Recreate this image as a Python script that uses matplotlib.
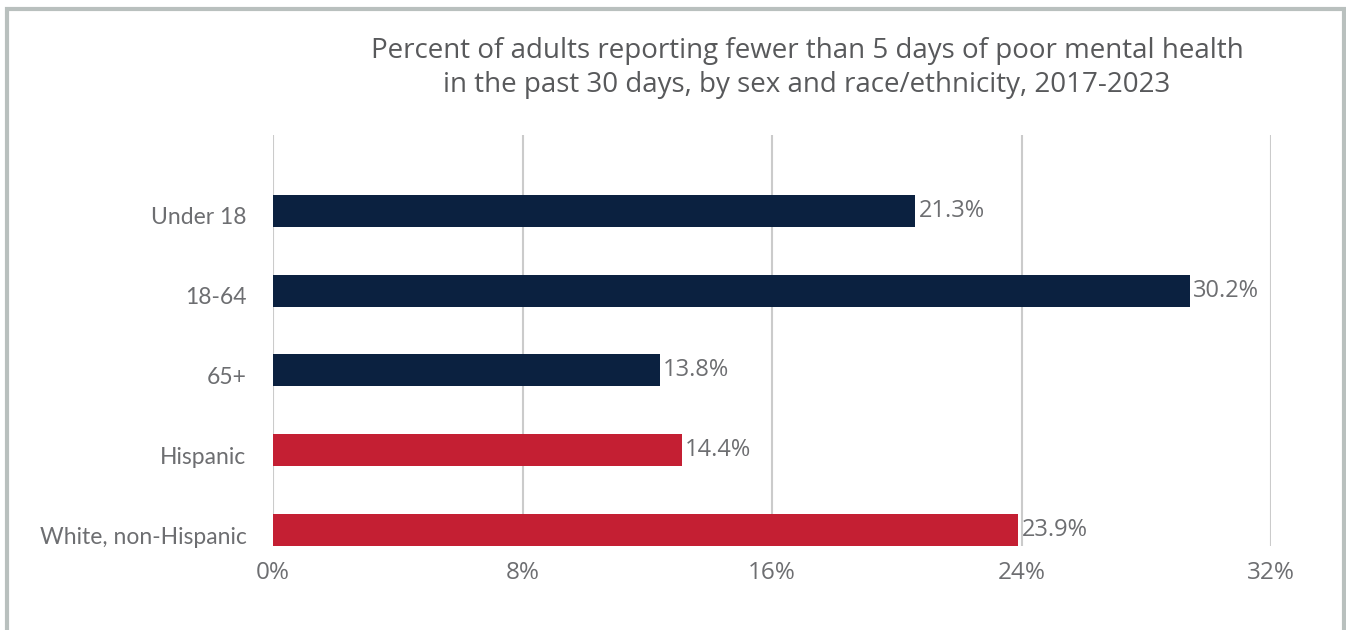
import matplotlib
matplotlib.use("Agg")
import matplotlib.pyplot as plt
import matplotlib.transforms as mtransforms
from matplotlib.patches import Rectangle

categories = ["Under 18", "18-64", "65+", "Hispanic", "White, non-Hispanic"]
bar_values = [20.6, 29.4, 12.4, 13.1, 23.9]
value_labels = ["21.3%", "30.2%", "13.8%", "14.4%", "23.9%"]
bar_colors = ["#0b2140", "#0b2140", "#0b2140", "#c41f33", "#c41f33"]
x_ticks = [0, 8, 16, 24, 32]
x_tick_labels = ["0%", "8%", "16%", "24%", "32%"]
title = ("Percent of adults reporting fewer than 5 days of poor mental health\n"
         "in the past 30 days, by sex and race/ethnicity, 2017-2023")

plt.rcParams['font.family'] = ['Lato', 'DejaVu Sans']
wide = ['Open Sans', 'DejaVu Sans']

W, H = 1346, 630
fig = plt.figure(figsize=(W / 100, H / 100), dpi=100)
fig.patch.set_facecolor("white")

ax = fig.add_axes([273 / W, 1 - 546 / H, (1271 - 273) / W, (546 - 135) / H])
ypos = list(range(len(categories)))
ax.barh(ypos, bar_values, height=0.4, color=bar_colors, zorder=3)
for y, v, lab in zip(ypos, bar_values, value_labels):
    ax.text(v + 0.1, y, lab, va="center", ha="left", fontsize=17,
            color="#6d6e71", zorder=4, family=wide)

ax.set_xlim(0, 32)
ax.set_ylim(4.2, -0.95)
ax.set_xticks(x_ticks)
ax.set_xticklabels(x_tick_labels, family=wide)
ax.set_yticks(ypos)
ax.set_yticklabels(categories)
ax.tick_params(axis="x", length=0, pad=11, labelsize=17.5, labelcolor="#6d6e71")
ax.tick_params(axis="y", length=0, pad=19, labelsize=16.5, labelcolor="#6d6e71")
ax.grid(axis="x", color="#cbcbcb", linewidth=1.5, zorder=0)
for s in ax.spines.values():
    s.set_visible(False)

offset = mtransforms.ScaledTranslation(0, -5 / 100, fig.dpi_scale_trans)
for lbl in ax.get_yticklabels():
    lbl.set_transform(lbl.get_transform() + offset)

fig.text(807 / W, 1 - 68 / H, title, ha="center", va="center", fontsize=20,
         color="#58595b", linespacing=1.27, family=wide)

fig.patches.append(Rectangle((7 / W, -0.1), (1343.5 - 7) / W, 1.1 - 9 / H,
                             transform=fig.transFigure, fill=False,
                             edgecolor="#b9c0be", linewidth=3, zorder=0))

fig.savefig("out.png", dpi=100, facecolor="white")
